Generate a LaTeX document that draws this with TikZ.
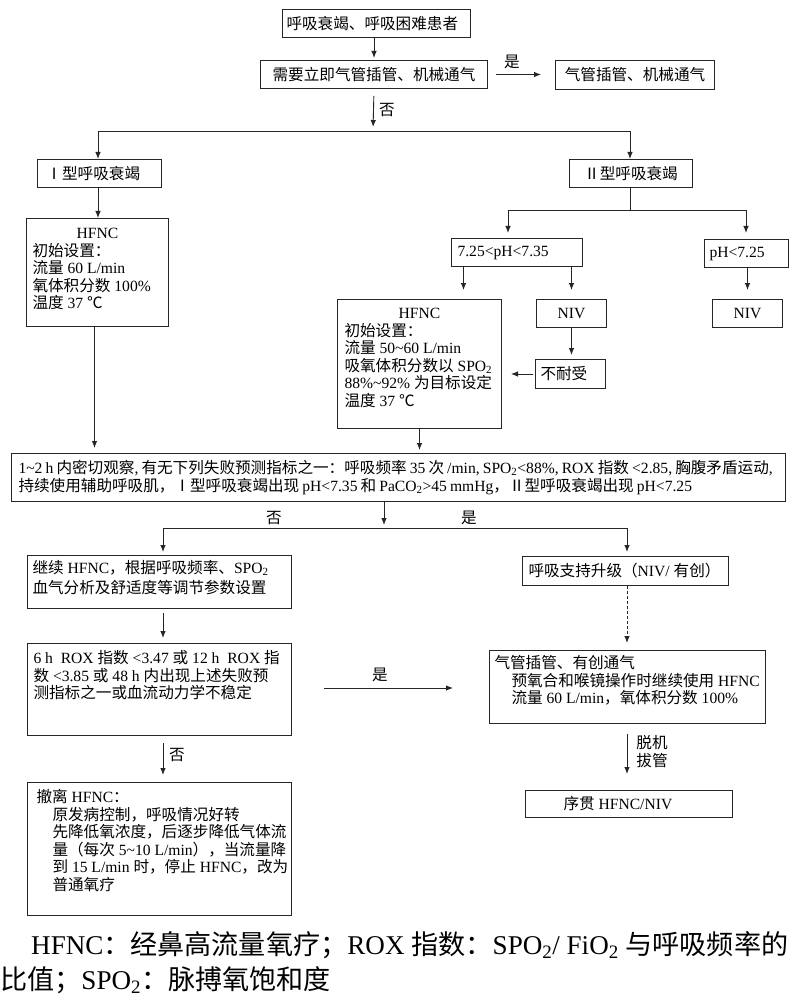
\documentclass[tikz,border=0pt]{standalone}
\usepackage{fontspec}
\setmainfont{Liberation Serif}
\newfontfamily\cjkfont{Noto Sans CJK SC}
\newfontfamily\latinfont{Liberation Serif}
\usetikzlibrary{arrows.meta}
\XeTeXinterchartokenstate=1
\chardef\CJKcls=200
\newcount\cjkcnt
\def\setcjkrange#1#2{\cjkcnt=#1\relax\loop\XeTeXcharclass\cjkcnt=\CJKcls\relax\ifnum\cjkcnt<#2\relax\advance\cjkcnt by 1\relax\repeat}
\setcjkrange{"3000}{"9FFF}
\setcjkrange{"FF00}{"FFEF}
\setcjkrange{"2160}{"216F}
\XeTeXcharclass"2103=\CJKcls
\XeTeXinterchartoks 0 \CJKcls = {\cjkfont}
\XeTeXinterchartoks 4095 \CJKcls = {\cjkfont}
\XeTeXinterchartoks \CJKcls 0 = {\latinfont}
\XeTeXinterchartoks \CJKcls 4095 = {\latinfont}
\newcommand\bx[7]{\node[box] (#1) at (#2,#3) {\parbox[c][#5pt][#6]{#4pt}{#7}};}
\begin{document}
\begin{tikzpicture}[x=1pt,y=-1pt,
  every node/.style={inner sep=0pt, font=\fontsize{15.6}{17.5}\selectfont},
  box/.style={draw=black!85, line width=1pt, anchor=north west},
  arr/.style={-{Latex[length=7pt,width=5.5pt]}, line width=0.9pt, black!85},
  ln/.style={line width=0.9pt, black!85}]
\fill[white] (0,0) rectangle (804,1000);
\useasboundingbox (0,0) rectangle (804,1000);
% boxes
\bx{top}{282}{9}{188}{28}{c}{\leftskip=4pt 呼吸衰竭、呼吸困难患者}
\bx{ask}{260}{60}{227}{28}{c}{\centering 需要立即气管插管、机械通气\par}
\bx{intu0}{555}{60}{159}{29}{c}{\centering 气管插管、机械通气\par}
\bx{t1}{37}{159}{124}{28}{c}{\leftskip=9pt Ⅰ型呼吸衰竭}
\bx{t2}{569}{159}{123}{28}{c}{\centering Ⅱ型呼吸衰竭\par}
\bx{hf1}{26}{218}{142}{108}{t}{\leftskip=6pt\vspace*{10pt}{\centering HFNC\par}初始设置：\\流量 60 L/min\\氧体积分数 100\%\\温度 37 ℃}
\bx{ph1}{451}{238}{131}{28}{c}{\leftskip=6pt 7.25<pH<7.35}
\bx{ph2}{704}{239}{84}{28}{c}{\leftskip=5pt pH<7.25}
\bx{hf2}{337}{299}{164}{129}{t}{\leftskip=7pt\vspace*{9pt}{\centering HFNC\par}初始设置：\\流量 50\textasciitilde 60 L/min\\吸氧体积分数以 SPO\textsubscript{2}\\88\%\textasciitilde 92\% 为目标设定\\温度 37 ℃}
\bx{niv1}{536}{299}{70}{28}{c}{\centering NIV\par}
\bx{niv2}{712}{299}{70}{28}{c}{\centering NIV\par}
\bx{nt}{535}{359}{70}{29}{c}{\leftskip=5pt 不耐受}
\bx{big}{11}{453}{774}{48}{c}{\leftskip=7pt\spaceskip=3.1pt plus 1pt minus 1pt 1\textasciitilde 2 h 内密切观察, 有无下列失败预测指标之一：呼吸频率 35 次 /min, SPO\textsubscript{2}<88\%, ROX 指数 <2.85, 胸腹矛盾运动,\\持续使用辅助呼吸肌，Ⅰ型呼吸衰竭出现 pH<7.35 和 PaCO\textsubscript{2}>45 mmHg，Ⅱ型呼吸衰竭出现 pH<7.25}
\bx{cont}{27}{555}{264}{53}{t}{\leftskip=5pt\vspace*{5pt}继续 HFNC，根据呼吸频率、SPO\textsubscript{2}\\[2.5pt]血气分析及舒适度等调节参数设置}
\bx{up}{522}{556}{206}{29}{c}{\leftskip=6pt 呼吸支持升级（NIV/ 有创）}
\bx{rox}{27}{643}{264}{92}{t}{\leftskip=6pt\vspace*{7pt}6 h\enspace ROX 指数 <3.47 或 12 h\enspace ROX 指\\数 <3.85 或 48 h 内出现上述失败预\\测指标之一或血流动力学不稳定}
\bx{intub}{489}{650}{276}{73}{t}{\vspace*{5pt}\leftskip=5pt 气管插管、有创通气\par\leftskip=22pt 预氧合和喉镜操作时继续使用 HFNC\\流量 60 L/min，氧体积分数 100\%}
\bx{wean}{27}{782}{264}{133}{t}{\vspace*{7pt}\leftskip=9pt 撤离 HFNC：\par\leftskip=25pt 原发病控制，呼吸情况好转\\先降低氧浓度，后逐步降低气体流\\量（每次 5\textasciitilde 10 L/min），当流量降\\到 15 L/min 时，停止 HFNC，改为\\普通氧疗}
\bx{seq}{525}{790}{207}{27}{c}{\leftskip=38pt 序贯 HFNC/NIV}
% junction coordinates
\coordinate (j1) at (373,131);
\coordinate (j1L) at (98,131);
\coordinate (j1R) at (630,131);
\coordinate (j2L) at (508,210);
\coordinate (j2R) at (746,210);
\coordinate (j3) at (384,528);
\coordinate (j3L) at (163,528);
\coordinate (j3R) at (627,528);
\coordinate (yes3) at (0,688);
% connectors
\draw[arr, shorten >=2pt] (top.south -| ask.north) -- (ask.north);
\draw[arr, shorten <=8pt, shorten >=14pt] (ask.east) -- (ask.east -| intu0.west);
\draw[arr, shorten <=7pt, shorten >=4pt] (ask.south) -- (j1);
\draw[ln] (j1L) -- (j1R);
\draw[arr] (j1L) -- (j1L |- t1.north);
\draw[arr] (j1R) -- (j1R |- t2.north);
\draw[arr] (t1.south -| j1L) -- (j1L |- hf1.north);
\draw[ln] (t2.south -| j1R) -- (j1R |- j2L);
\draw[ln] (j2L) -- (j2R);
\draw[arr, shorten >=5pt] (j2L) -- (j2L |- ph1.north);
\draw[arr, shorten >=6pt] (j2R) -- (j2R |- ph2.north);
\draw[arr, shorten >=9pt] ([xshift=-53.5pt]ph1.south) -- ([xshift=-53.5pt]ph1.south |- hf2.north);
\draw[arr, shorten >=9pt] (ph1.south -| niv1.north) -- (niv1.north);
\draw[arr, shorten >=9pt] (ph2.south -| niv2.north) -- (niv2.north);
\draw[arr, shorten >=4pt] (niv1.south) -- (niv1.south |- nt.north);
\draw[arr, shorten <=2pt, shorten >=9pt] (nt.west) -- (nt.west -| hf2.east);
\draw[arr, shorten >=3pt] (hf2.south) -- (hf2.south |- big.north);
\draw[arr, shorten >=5pt] ([xshift=-3pt]hf1.south) -- ([xshift=-3pt]hf1.south |- big.north);
\draw[arr, shorten >=3pt] (j3 |- big.south) -- (j3);
\draw[ln] (j3L) -- (j3R);
\draw[arr, shorten >=3pt] (j3L) -- (j3L |- cont.north);
\draw[arr, shorten >=4pt] (j3R) -- (j3R |- up.north);
\draw[arr, shorten <=4pt, shorten >=5pt] (j3L |- cont.south) -- (j3L |- rox.north);
\draw[arr, dash pattern=on 3pt off 2pt, shorten >=7pt] (j3R |- up.south) -- (j3R |- intub.north);
\draw[arr, shorten <=32pt, shorten >=36pt] (rox.east |- yes3) -- (intub.west |- yes3);
\draw[arr, shorten <=7pt, shorten >=7pt] (j3L |- rox.south) -- (j3L |- wean.north);
\draw[arr, shorten <=10pt, shorten >=16pt] (j3R |- intub.south) -- (j3R |- seq.north);
% labels
\node (l1) at (512,62) {是};
\node (l2) at (387,110) {否};
\node (l3) at (274,518) {否};
\node (l4) at (469,518) {是};
\node (l5) at (380,675) {是};
\node (l6) at (177,755) {否};
\node (l7) at (652,743) {脱机};
\node (l8) at (652,761) {拔管};
% caption
\node[anchor=west, font=\fontsize{27.1}{33}\selectfont] (cap1) at (31,945) {HFNC：经鼻高流量氧疗；ROX 指数：SPO\textsubscript{2}/ FiO\textsubscript{2} 与呼吸频率的};
\node[anchor=west, font=\fontsize{27.1}{33}\selectfont] (cap2) at (0,980) {比值；SPO\textsubscript{2}：脉搏氧饱和度};
\end{tikzpicture}
\end{document}
